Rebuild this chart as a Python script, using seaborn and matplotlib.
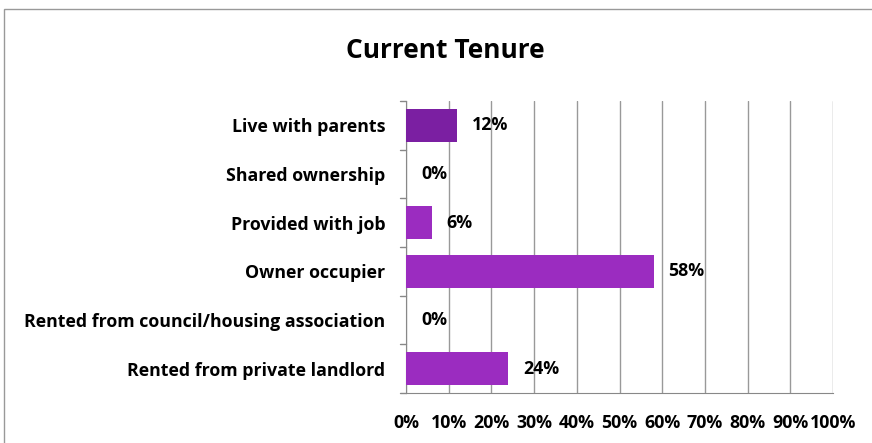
import pandas as pd
import seaborn as sns
import matplotlib.pyplot as plt
from matplotlib.patches import Rectangle

categories = [
    'Live with parents',
    'Shared ownership',
    'Provided with job',
    'Owner occupier',
    'Rented from council/housing association',
    'Rented from private landlord',
]
values = [12, 0, 6, 58, 0, 24]
bar_colors = ['#7B1FA2', '#9B2CC0', '#9B2CC0', '#9B2CC0', '#9B2CC0', '#9B2CC0']
x_ticks = [0, 10, 20, 30, 40, 50, 60, 70, 80, 90, 100]

df = pd.DataFrame({'tenure': categories, 'pct': values})

sns.set_style('white')
plt.rcParams['font.family'] = ['Open Sans', 'DejaVu Sans']
plt.rcParams['text.color'] = 'black'
plt.rcParams['xtick.color'] = 'black'
plt.rcParams['ytick.color'] = 'black'

fig = plt.figure(figsize=(8.72, 4.43), dpi=100)
ax = fig.add_axes([0.4656, 0.113, 0.4897, 0.659])

sns.barplot(data=df, x='pct', y='tenure', hue='tenure', palette=bar_colors,
            legend=False, width=0.67, saturation=1, linewidth=0, ax=ax, zorder=3)

fs = 12.8
ax.set_xlim(0, 100)
ax.set_ylim(len(categories) - 0.5, -0.5)
ax.set_xticks(x_ticks)
ax.set_xticklabels(['{}%'.format(t) for t in x_ticks], fontweight='bold', fontsize=fs)
ax.set_yticks(range(len(categories)))
ax.set_yticklabels(categories, fontweight='bold', fontsize=fs)
ax.tick_params(axis='y', length=0, pad=15)
ax.tick_params(axis='x', length=5, color='#888888', width=1, pad=10)

# category boundary tick marks on y axis
for b in [i - 0.5 for i in range(len(categories) + 1)]:
    ax.plot([-1.4, 0], [b, b], color='#888888', lw=1, clip_on=False, zorder=4)

ax.grid(axis='x', color='#999999', lw=1, zorder=0)
for s in ['top', 'right']:
    ax.spines[s].set_visible(False)
ax.spines['left'].set_color('#888888')
ax.spines['bottom'].set_color('#888888')
ax.set_xlabel('')
ax.set_ylabel('')

for i, v in enumerate(values):
    ax.text(v + 3.5, i, '{}%'.format(v), va='center', ha='left',
            fontweight='bold', fontsize=fs, zorder=5)

fig.text(0.511, 0.885, 'Current Tenure', ha='center', va='center',
         fontsize=19, fontweight='bold')

fig.patches.append(Rectangle((4 / 872, -0.05), 1.0, 1 - 9 / 443 + 0.05,
                             transform=fig.transFigure, fill=False,
                             edgecolor='#999999', lw=1))

fig.savefig('out.png', dpi=100)
